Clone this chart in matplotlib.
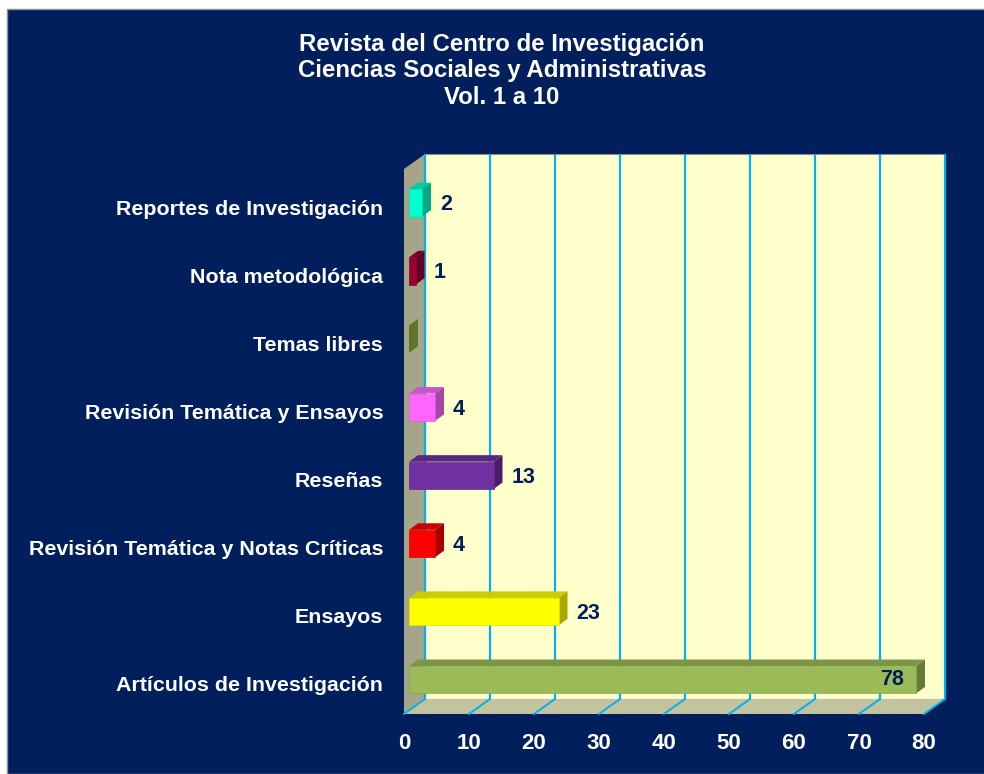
import numpy as np
import matplotlib.pyplot as plt
from matplotlib.patches import Polygon, Rectangle

plt.rcParams['font.family'] = ['Liberation Sans', 'DejaVu Sans']
plt.rcParams['font.weight'] = 'bold'

# datos (de abajo hacia arriba)
categorias = ['Artículos de Investigación', 'Ensayos', 'Revisión Temática y Notas Críticas',
              'Reseñas', 'Revisión Temática y Ensayos', 'Temas libres',
              'Nota metodológica', 'Reportes de Investigación']
valores = [78, 23, 4, 13, 4, 0, 1, 2]
colores = ['#9BBB59', '#FFFF00', '#FF0000', '#7030A0', '#FF66FF', '#8DB33E', '#990033', '#00FFCC']
titulo = ['Revista del Centro de Investigación',
          'Ciencias Sociales y Administrativas',
          'Vol. 1 a 10']
xticks = [0, 10, 20, 30, 40, 50, 60, 70, 80]

NAVY = '#001F5C'
GRID = '#00B0F0'
W, H = 984, 774

fig = plt.figure(figsize=(W / 100, H / 100), dpi=100, facecolor='white')
fig.patches.append(Rectangle((7 / W, 0), 1, 1 - 9 / H, transform=fig.transFigure,
                             facecolor=NAVY, edgecolor='#909090', lw=1, zorder=-10))

# plano frontal del grafico
ax = fig.add_axes([404 / W, 60 / H, 520 / W, 545 / H])
ax.set_xlim(0, 80)
ax.set_ylim(-0.5, 7.5)
ax.patch.set_visible(False)
for s in ax.spines.values():
    s.set_visible(False)

ux = 80 / 520.0   # unidades por pixel
uy = 8 / 545.0


def off(px, py):
    return px * ux, py * uy


wdx, wdy = off(21, 15)     # profundidad de las paredes
bfx, bfy = off(5, 3.6)     # cara frontal de la barra
bdx, bdy = off(9, 6.5)     # profundidad de la barra
y0, y1 = -0.5, 7.5
xmax = xticks[-1]


def poly(pts, fc, ec='none', lw=0, z=1):
    ax.add_patch(Polygon(pts, closed=True, facecolor=fc, edgecolor=ec, lw=lw,
                         zorder=z, clip_on=False))


# pared del fondo
poly([(wdx, y0 + wdy), (xmax + wdx, y0 + wdy), (xmax + wdx, y1 + wdy), (wdx, y1 + wdy)],
     '#FFFFCC', ec='#8C8C8C', lw=0.8, z=1)
# piso
poly([(0, y0), (xmax, y0), (xmax + wdx, y0 + wdy), (wdx, y0 + wdy)], '#C3C3A0', z=1)
# pared lateral
poly([(0, y0), (wdx, y0 + wdy), (wdx, y1 + wdy), (0, y1)], '#A5A589', z=1)

for t in xticks:
    ax.plot([t + wdx, t + wdx], [y0 + wdy, y1 + wdy], color=GRID, lw=1.6, zorder=2,
            clip_on=False, solid_capstyle='butt')
    ax.plot([t, t + wdx], [y0, y0 + wdy], color=GRID, lw=1.4, zorder=2, clip_on=False)


def tono(c, f):
    r, g, b = [int(c[i:i + 2], 16) for i in (1, 3, 5)]
    return '#%02X%02X%02X' % (int(r * f), int(g * f), int(b * f))


hb = 13.7 * uy
for i, (v, c) in enumerate(zip(valores, colores)):
    xa = bfx
    xb = bfx + v
    yc = i + bfy - 0.05
    ya, yb = yc - hb, yc + hb
    # cara superior
    poly([(xa, yb), (xb, yb), (xb + bdx, yb + bdy), (xa + bdx, yb + bdy)], tono(c, 0.8), z=5)
    # cara lateral
    poly([(xb, ya), (xb, yb), (xb + bdx, yb + bdy), (xb + bdx, ya + bdy)], tono(c, 0.66), z=5)
    # cara frontal
    if v > 0:
        poly([(xa, ya), (xb, ya), (xb, yb), (xa, yb)], c, ec=tono(c, 0.9), lw=0.5, z=6)
        if v > 70:
            ax.text(xb - 12 * ux, yc, str(v), ha='right', va='center', color=NAVY,
                    fontsize=15.5, fontweight='bold', zorder=7)
        else:
            ax.text(xb + bdx + 9 * ux, yc - 2 * uy, str(v), ha='left', va='center', color=NAVY,
                    fontsize=15.5, fontweight='bold', zorder=7)

ax.set_yticks([i - 4 * uy for i in range(len(categorias))])
ax.set_yticklabels(categorias, color='white', fontsize=15.4, fontweight='bold')
ax.set_xticks(xticks)
ax.set_xticklabels([str(t) for t in xticks], color='white', fontsize=16, fontweight='bold')
ax.tick_params(axis='y', length=0, pad=15)
ax.tick_params(axis='x', length=0, pad=14)

for k, (linea, yy) in enumerate(zip(titulo, [45, 71, 98])):
    fig.text(502 / W, 1 - yy / H, linea, ha='center', va='center', color='white',
             fontsize=17.3, fontweight='bold')

fig.savefig('out.png', dpi=100, facecolor=fig.get_facecolor())
